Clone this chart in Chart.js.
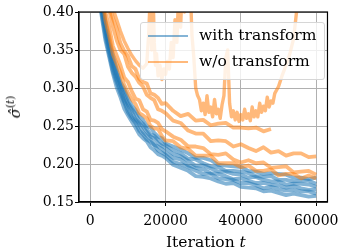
<!DOCTYPE html>
<html>
<head>
<meta charset="utf-8">
<script src="https://cdn.jsdelivr.net/npm/chart.js@4.4.1/dist/chart.umd.min.js"></script>
<style>
  html,body{margin:0;padding:0;background:#fff;}
  #wrap{position:relative;width:346px;height:252px;overflow:hidden;}
  canvas{position:absolute;left:0;top:0;}
  .lbl{position:absolute;font-family:"DejaVu Serif",serif;color:#000;white-space:nowrap;}
  #legend{position:absolute;left:140px;top:22px;width:185px;height:58px;border:1px solid #d6d6d6;border-radius:3px;background:rgba(255,255,255,0.8);box-sizing:border-box;}
  .lg-line{position:absolute;left:7px;width:40px;height:2px;}
  .lg-text{position:absolute;left:58px;font-family:"DejaVu Serif",serif;font-size:15.5px;line-height:18px;}
</style>
</head>
<body>
<div id="wrap">
  <canvas id="c" width="346" height="252"></canvas>
  <div id="legend">
    <div class="lg-line" style="top:12px;background:rgba(31,119,180,0.55)"></div>
    <div class="lg-text" style="top:3px">with transform</div>
    <div class="lg-line" style="top:38px;background:rgba(255,127,14,0.55)"></div>
    <div class="lg-text" style="top:29px">w/o transform</div>
  </div>
  <div class="lbl" style="left:166px;top:233px;font-size:15.5px">Iteration <i>t</i></div>
  <div class="lbl" id="ylab" style="left:14px;top:107px;font-size:15px;transform:translate(-50%,-50%) rotate(-90deg);"><i>σ̂</i><sup style="font-size:10.5px">(<i>t</i>)</sup></div>
</div>
<script>
// ---- data ----
const iterations = [2000,3000,4000,5000,6000,7000,8000,9000,10000,11000,12000,13000,14000,15000,16000,17000,18000,19000,20000,22000,24000,26000,28000,30000,32000,34000,36000,38000,40000,42000,44000,46000,48000,50000,52000,54000,56000,58000,60000];

const withT1 = [0.429,0.395,0.363,0.341,0.319,0.301,0.288,0.273,0.264,0.256,0.248,0.239,0.234,0.230,0.222,0.218,0.213,0.211,0.208,0.199,0.195,0.191,0.184,0.183,0.181,0.177,0.174,0.175,0.170,0.169,0.168,0.164,0.165,0.162,0.159,0.161,0.159,0.157,0.158];
const withT2 = [0.436,0.399,0.368,0.345,0.322,0.307,0.293,0.281,0.268,0.260,0.254,0.244,0.239,0.232,0.229,0.225,0.218,0.215,0.212,0.203,0.200,0.196,0.191,0.187,0.187,0.181,0.180,0.179,0.175,0.175,0.172,0.168,0.170,0.167,0.165,0.166,0.164,0.164,0.161];
const withT3 = [0.436,0.403,0.374,0.349,0.327,0.311,0.298,0.283,0.273,0.263,0.257,0.251,0.242,0.237,0.233,0.225,0.223,0.220,0.215,0.208,0.206,0.198,0.195,0.193,0.188,0.187,0.184,0.180,0.181,0.178,0.175,0.175,0.173,0.172,0.169,0.171,0.168,0.166,0.167];
const withT4 = [0.443,0.410,0.377,0.353,0.332,0.317,0.303,0.288,0.278,0.270,0.259,0.254,0.249,0.242,0.236,0.234,0.227,0.224,0.221,0.213,0.210,0.204,0.198,0.198,0.194,0.190,0.190,0.187,0.186,0.182,0.183,0.179,0.177,0.177,0.173,0.174,0.174,0.173,0.170];
const withT5 = [0.447,0.413,0.380,0.357,0.338,0.320,0.304,0.295,0.281,0.273,0.266,0.257,0.253,0.246,0.239,0.237,0.232,0.227,0.225,0.218,0.214,0.207,0.206,0.201,0.197,0.196,0.191,0.191,0.190,0.188,0.184,0.183,0.184,0.179,0.179,0.177,0.178,0.178,0.174];
const withT6 = [0.451,0.417,0.388,0.361,0.343,0.325,0.308,0.299,0.287,0.277,0.271,0.263,0.258,0.250,0.248,0.241,0.236,0.234,0.227,0.223,0.219,0.214,0.208,0.208,0.205,0.199,0.198,0.197,0.196,0.191,0.190,0.187,0.188,0.187,0.186,0.182,0.182,0.180,0.182];

const withoutT1 = [0.500,0.462,0.420,0.403,0.381,0.363,0.350,0.345,0.328,0.320,0.315,0.307,0.302,0.291,0.287,0.284,0.272,0.270,0.267,0.257,0.254,0.244,0.240,0.240,0.230,0.231,0.230,0.223,0.226,0.221,0.217,0.222,0.215,0.217,0.211,0.214,0.214,0.209,0.210];
const withoutT2 = [0.522,0.468,0.439,0.407,0.392,0.378,0.359,0.349,0.342,0.329,0.325,0.312,0.308,0.306,0.293,0.291,0.287,0.279,0.280,0.270,0.263,0.266,0.257,0.258,0.251,0.253,0.254,0.248,0.248,0.247,0.248,0.243,0.246,null,null,null,null,null,null];
const withoutT4 = [0.473,0.426,0.400,0.381,0.355,0.343,0.330,0.314,0.308,0.296,0.286,0.284,0.272,0.269,0.258,0.257,0.254,0.246,0.243,0.236,0.232,0.223,0.223,0.221,0.213,0.212,0.214,0.206,0.202,0.205,0.201,0.202,0.195,0.196,0.197,0.189,0.190,0.191,0.186];
const withoutT5 = [0.458,0.426,0.389,0.369,0.344,0.332,0.320,0.304,0.294,0.285,0.279,0.267,0.264,0.260,0.250,0.247,0.246,0.237,0.231,0.230,0.222,0.220,0.211,0.211,0.211,0.201,0.201,0.201,0.196,0.198,0.191,0.191,0.193,0.185,0.187,0.187,0.181,0.185,0.181];

const spikyIterations = [2000,4000,5000,6000,7000,8000,9000,10000,11000,12000,13000,14000,15000,15500,16000,16300,16600,17000,17300,17600,18000,18500,19000,19500,20000,20500,21000,21500,22000,22500,23000,23500,24000,24500,25000,25500,26000,26500,27000,27500,28000,28500,29000,29500,30000,30500,31000,31500,32000,32500,33000,33500,34000,34500,35000,35500,36000,36500,37000,37500,38000,38500,39000,39500,40000,40500,41000,41500,42000,42500,43000,43500,44000,44500,45000,45500,46000,46500,47000,47500,48000,48500,49000,50000,51000,52000,53000,54000,55000];
const withoutT3 = [0.52,0.45,0.425,0.405,0.39,0.375,0.362,0.352,0.343,0.336,0.330,0.326,0.332,0.37,0.43,0.35,0.44,0.36,0.33,0.345,0.316,0.33,0.311,0.325,0.318,0.335,0.325,0.36,0.34,0.39,0.36,0.43,0.38,0.45,0.40,0.46,0.41,0.44,0.37,0.34,0.30,0.29,0.285,0.27,0.28,0.265,0.29,0.268,0.275,0.262,0.285,0.266,0.272,0.26,0.278,0.29,0.34,0.35,0.28,0.262,0.27,0.258,0.268,0.256,0.265,0.258,0.272,0.26,0.266,0.257,0.275,0.262,0.27,0.262,0.28,0.268,0.276,0.27,0.288,0.275,0.283,0.28,0.293,0.302,0.317,0.33,0.345,0.365,0.41];

const xTicks = [0, 20000, 40000, 60000];
const yTicks = [0.15, 0.20, 0.25, 0.30, 0.35, 0.40];

// ---- chart ----
const BLUE = 'rgba(31,119,180,0.55)';
const ORANGE = 'rgba(255,127,14,0.55)';
const pts = (xs, ys) => xs.map((x, i) => ({x, y: ys[i]}));
const mk = (xs, ys, color, order, w) => ({
  data: pts(xs, ys), borderColor: color, backgroundColor: color,
  borderWidth: w, pointRadius: 0, tension: 0, fill: false, spanGaps: false, order,
  borderJoinStyle: 'round', borderCapStyle: 'butt'
});

const datasets = [
  ...[withT1, withT2, withT3, withT4, withT5, withT6].map(s => mk(iterations, s, BLUE, 2, 3.8)),
  ...[withoutT1, withoutT2, withoutT4, withoutT5].map(s => mk(iterations, s, ORANGE, 1, 3.8)),
  mk(spikyIterations, withoutT3, ORANGE, 1, 3.4)
];

const frame = {
  id: 'frame',
  afterDatasetsDraw(chart) {
    const {ctx, chartArea: a} = chart;
    ctx.save();
    ctx.strokeStyle = '#000';
    ctx.lineWidth = 1.2;
    ctx.strokeRect(a.left, a.top, a.right - a.left, a.bottom - a.top);
    ctx.restore();
  }
};

const tickFont = {family: 'DejaVu Serif', size: 14};
new Chart(document.getElementById('c'), {
  type: 'line',
  data: {datasets},
  options: {
    responsive: false, animation: false, devicePixelRatio: 1,
    layout: {padding: {left: 0, right: 12, top: 12, bottom: 0}},
    plugins: {legend: {display: false}, tooltip: {enabled: false}},
    scales: {
      x: {
        type: 'linear', min: -3000, max: 63000,
        afterBuildTicks: s => { s.ticks = xTicks.map(v => ({value: v})); },
        afterFit: s => { s.height = 50; },
        ticks: {font: tickFont, color: '#000', padding: 7, maxRotation: 0, autoSkip: false, callback: v => String(v)},
        grid: {color: '#b0b0b0', lineWidth: 1, tickColor: '#000', tickLength: 4, drawTicks: true},
        border: {color: '#000', width: 1.2}
      },
      y: {
        type: 'linear', min: 0.15, max: 0.40,
        afterBuildTicks: s => { s.ticks = yTicks.map(v => ({value: v})); },
        afterFit: s => { s.width = 79; },
        ticks: {font: tickFont, color: '#000', padding: 1, autoSkip: false, callback: v => v.toFixed(2)},
        grid: {color: '#b0b0b0', lineWidth: 1, tickColor: '#000', tickLength: 4, drawTicks: true},
        border: {color: '#000', width: 1.2}
      }
    }
  },
  plugins: [frame]
});
</script>
</body>
</html>
